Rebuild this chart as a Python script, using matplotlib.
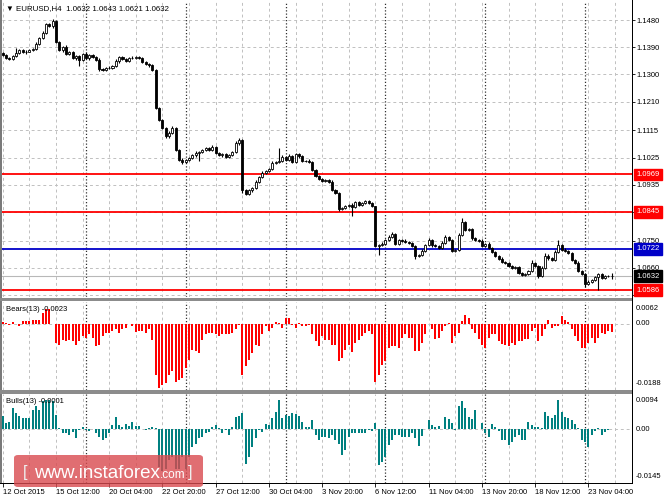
import matplotlib
matplotlib.use("Agg")
import matplotlib.pyplot as plt
import matplotlib.transforms as mtransforms
from matplotlib.patches import FancyBboxPatch, Rectangle

plt.rcParams["font.family"] = ["Liberation Sans", "DejaVu Sans"]

# EURUSD H4 candles, 12 Oct 2015 20:00 .. 24 Nov 2015
OPEN = [
    1.1371, 1.1364, 1.1354, 1.1352, 1.1361, 1.1371, 1.1381, 1.1374, 1.1376, 1.1381,
    1.1384, 1.1401, 1.1420, 1.1437, 1.1467, 1.1460, 1.1477, 1.1407, 1.1381, 1.1391,
    1.1367, 1.1374, 1.1354, 1.1361, 1.1348, 1.1367, 1.1354, 1.1364, 1.1358, 1.1348,
    1.1318, 1.1315, 1.1321, 1.1323, 1.1328, 1.1344, 1.1358, 1.1351, 1.1344, 1.1354,
    1.1356, 1.1358, 1.1354, 1.1341, 1.1334, 1.1331, 1.1315, 1.1189, 1.1149, 1.1123,
    1.1096, 1.1106, 1.1123, 1.1050, 1.1017, 1.1010, 1.1017, 1.1023, 1.1033, 1.1040,
    1.1043, 1.1050, 1.1056, 1.1050, 1.1060, 1.1040, 1.1033, 1.1036, 1.1027, 1.1033,
    1.1043, 1.1073, 1.1083, 1.0917, 1.0904, 1.0917, 1.0924, 1.0944, 1.0960, 1.0974,
    1.0980, 1.0987, 1.1007, 1.1010, 1.1013, 1.1027, 1.1017, 1.1030, 1.1010, 1.1036,
    1.1030, 1.1013, 1.1015, 1.1010, 1.0984, 1.0964, 1.0954, 1.0947, 1.0950, 1.0945,
    1.0917, 1.0907, 1.0854, 1.0858, 1.0864, 1.0868, 1.0861, 1.0878, 1.0868, 1.0874,
    1.0881, 1.0874, 1.0864, 1.0732, 1.0735, 1.0739, 1.0752, 1.0762, 1.0772, 1.0739,
    1.0752, 1.0749, 1.0745, 1.0742, 1.0732, 1.0699, 1.0702, 1.0715, 1.0735, 1.0752,
    1.0735, 1.0732, 1.0725, 1.0742, 1.0762, 1.0752, 1.0715, 1.0719, 1.0768, 1.0811,
    1.0785, 1.0788, 1.0758, 1.0752, 1.0749, 1.0732, 1.0739, 1.0725, 1.0712, 1.0699,
    1.0689, 1.0679, 1.0676, 1.0666, 1.0659, 1.0662, 1.0643, 1.0636, 1.0639, 1.0649,
    1.0676, 1.0666, 1.0633, 1.0659, 1.0699, 1.0692, 1.0686, 1.0712, 1.0735, 1.0719,
    1.0715, 1.0709, 1.0686, 1.0676, 1.0649, 1.0639, 1.0606, 1.0613, 1.0619, 1.0630,
    1.0639, 1.0626, 1.0633, 1.0632,
]
CLOSE = [
    1.1364, 1.1354, 1.1352, 1.1361, 1.1371, 1.1381, 1.1374, 1.1376, 1.1381, 1.1384,
    1.1401, 1.1420, 1.1437, 1.1467, 1.1460, 1.1477, 1.1407, 1.1381, 1.1391, 1.1367,
    1.1374, 1.1354, 1.1361, 1.1348, 1.1367, 1.1354, 1.1364, 1.1358, 1.1348, 1.1318,
    1.1315, 1.1321, 1.1323, 1.1328, 1.1344, 1.1358, 1.1351, 1.1344, 1.1354, 1.1356,
    1.1358, 1.1354, 1.1341, 1.1334, 1.1331, 1.1315, 1.1189, 1.1149, 1.1123, 1.1096,
    1.1106, 1.1123, 1.1050, 1.1017, 1.1010, 1.1017, 1.1023, 1.1033, 1.1040, 1.1043,
    1.1050, 1.1056, 1.1050, 1.1060, 1.1040, 1.1033, 1.1036, 1.1027, 1.1033, 1.1043,
    1.1073, 1.1083, 1.0917, 1.0904, 1.0917, 1.0924, 1.0944, 1.0960, 1.0974, 1.0980,
    1.0987, 1.1007, 1.1010, 1.1013, 1.1027, 1.1017, 1.1030, 1.1010, 1.1036, 1.1030,
    1.1013, 1.1015, 1.1010, 1.0984, 1.0964, 1.0954, 1.0947, 1.0950, 1.0945, 1.0917,
    1.0907, 1.0854, 1.0858, 1.0864, 1.0868, 1.0861, 1.0878, 1.0868, 1.0874, 1.0881,
    1.0874, 1.0864, 1.0732, 1.0735, 1.0739, 1.0752, 1.0762, 1.0772, 1.0739, 1.0752,
    1.0749, 1.0745, 1.0742, 1.0732, 1.0699, 1.0702, 1.0715, 1.0735, 1.0752, 1.0735,
    1.0732, 1.0725, 1.0742, 1.0762, 1.0752, 1.0715, 1.0719, 1.0768, 1.0811, 1.0785,
    1.0788, 1.0758, 1.0752, 1.0749, 1.0732, 1.0739, 1.0725, 1.0712, 1.0699, 1.0689,
    1.0679, 1.0676, 1.0666, 1.0659, 1.0662, 1.0643, 1.0636, 1.0639, 1.0649, 1.0676,
    1.0666, 1.0633, 1.0659, 1.0699, 1.0692, 1.0686, 1.0712, 1.0735, 1.0719, 1.0715,
    1.0709, 1.0686, 1.0676, 1.0649, 1.0639, 1.0606, 1.0613, 1.0619, 1.0630, 1.0639,
    1.0626, 1.0633, 1.0632, 1.0632,
]
# wick lengths beyond the body, in pips
UPPER_WICK = [
    3, 4, 3, 4, 15, 4, 3, 4, 3, 4, 5, 4, 6, 5, 4, 8, 4, 5, 4, 5,
    4, 5, 4, 5, 4, 6, 4, 3, 4, 5, 4, 3, 4, 5, 6, 4, 3, 4, 5, 4,
    4, 3, 4, 5, 4, 5, 2, 4, 5, 3, 6, 5, 3, 4, 5, 4, 3, 4, 5, 4,
    4, 5, 4, 6, 4, 3, 4, 5, 4, 3, 6, 5, 2, 4, 5, 4, 6, 4, 5, 3,
    4, 5, 4, 45, 5, 4, 6, 4, 5, 4, 4, 3, 4, 5, 4, 3, 4, 4, 5, 4,
    4, 3, 4, 5, 4, 6, 4, 3, 5, 4, 4, 5, 2, 4, 5, 4, 6, 5, 4, 3,
    4, 5, 4, 3, 4, 5, 6, 4, 5, 4, 3, 4, 5, 6, 4, 3, 4, 8, 12, 5,
    4, 5, 4, 3, 6, 4, 5, 4, 3, 4, 5, 4, 3, 4, 5, 4, 3, 4, 5, 10,
    4, 3, 6, 10, 5, 4, 6, 18, 4, 5, 4, 3, 4, 5, 4, 3, 6, 5, 4, 5,
    4, 3, 4, 11,
]
LOWER_WICK = [
    2, 4, 3, 5, 4, 3, 4, 5, 3, 4, 3, 5, 4, 3, 4, 5, 3, 4, 5, 4,
    3, 4, 5, 20, 4, 3, 5, 4, 3, 8, 4, 5, 3, 4, 4, 5, 3, 4, 3, 4,
    5, 4, 3, 4, 5, 4, 5, 3, 4, 6, 5, 4, 4, 3, 5, 4, 3, 4, 5, 25,
    4, 3, 5, 4, 3, 4, 5, 3, 4, 4, 3, 5, 8, 4, 3, 5, 4, 3, 4, 5,
    3, 4, 5, 4, 3, 4, 5, 4, 3, 5, 4, 4, 3, 4, 5, 4, 3, 4, 5, 4,
    3, 5, 4, 3, 4, 30, 4, 3, 5, 4, 3, 4, 5, 30, 4, 3, 5, 4, 3, 4,
    5, 4, 3, 4, 10, 5, 4, 3, 4, 5, 4, 3, 4, 5, 4, 3, 4, 5, 4, 3,
    4, 5, 4, 3, 4, 5, 4, 3, 4, 5, 4, 3, 5, 4, 3, 4, 5, 4, 3, 4,
    5, 8, 4, 3, 5, 4, 3, 4, 5, 4, 3, 4, 5, 4, 3, 10, 4, 3, 4, 44,
    3, 4, 4, 11,
]
BEARS = [
    0.0005, 0.0003, -0.0002, 0.0005, 0.0000, -0.0007, 0.0008, 0.0008, 0.0008, 0.0010,
    0.0010, 0.0012, 0.0031, 0.0041, 0.0041, 0.0000, -0.0054, -0.0059, -0.0045, -0.0050,
    -0.0047, -0.0050, -0.0059, -0.0050, -0.0035, -0.0040, -0.0030, -0.0040, -0.0064, -0.0059,
    -0.0035, -0.0026, -0.0026, -0.0021, -0.0016, -0.0026, -0.0016, -0.0011, 0.0000, -0.0007,
    -0.0024, -0.0021, -0.0021, -0.0026, -0.0016, -0.0045, -0.0145, -0.0183, -0.0173, -0.0169,
    -0.0145, -0.0135, -0.0164, -0.0159, -0.0154, -0.0126, -0.0102, -0.0073, -0.0078, -0.0083,
    -0.0045, -0.0030, -0.0026, -0.0026, -0.0030, -0.0035, -0.0030, -0.0030, -0.0029, -0.0026,
    -0.0016, -0.0002, -0.0145, -0.0121, -0.0102, -0.0083, -0.0059, -0.0064, -0.0030, -0.0005,
    -0.0021, -0.0011, 0.0005, 0.0003, -0.0011, 0.0017, 0.0017, -0.0002, -0.0011, 0.0003,
    -0.0007, -0.0007, -0.0002, -0.0030, -0.0050, -0.0064, -0.0035, -0.0045, -0.0045, -0.0059,
    -0.0059, -0.0107, -0.0097, -0.0073, -0.0059, -0.0081, -0.0054, -0.0045, -0.0035, -0.0026,
    -0.0021, -0.0030, -0.0164, -0.0145, -0.0116, -0.0107, -0.0069, -0.0064, -0.0064, -0.0069,
    -0.0040, -0.0030, -0.0040, -0.0040, -0.0078, -0.0078, -0.0054, -0.0030, 0.0000, -0.0016,
    -0.0043, -0.0040, -0.0021, -0.0007, 0.0001, -0.0054, -0.0035, -0.0026, 0.0008, 0.0024,
    0.0017, -0.0014, -0.0026, -0.0043, -0.0059, -0.0069, -0.0040, -0.0030, -0.0030, -0.0050,
    -0.0056, -0.0059, -0.0064, -0.0054, -0.0059, -0.0050, -0.0050, -0.0043, -0.0043, -0.0021,
    -0.0011, -0.0050, -0.0035, -0.0016, 0.0012, -0.0011, -0.0007, -0.0005, 0.0022, 0.0012,
    0.0005, -0.0016, -0.0035, -0.0050, -0.0069, -0.0069, -0.0054, -0.0040, -0.0054, -0.0040,
    -0.0026, -0.0030, -0.0021, -0.0023,
]
BULLS = [
    0.0034, 0.0015, 0.0020, 0.0056, 0.0043, 0.0034, 0.0029, 0.0029, 0.0029, 0.0052,
    0.0061, 0.0052, 0.0074, 0.0079, 0.0079, 0.0074, 0.0038, 0.0002, -0.0012, -0.0012,
    -0.0016, -0.0007, -0.0025, -0.0003, 0.0006, -0.0003, -0.0005, -0.0001, -0.0012, -0.0021,
    -0.0030, -0.0025, -0.0012, 0.0011, 0.0032, 0.0011, 0.0006, 0.0014, 0.0008, 0.0020,
    0.0008, 0.0008, -0.0001, -0.0003, 0.0002, 0.0005, 0.0002, -0.0102, -0.0112, -0.0107,
    -0.0084, -0.0075, -0.0107, -0.0107, -0.0075, -0.0107, -0.0075, -0.0048, -0.0039, -0.0025,
    -0.0021, -0.0012, -0.0007, 0.0006, 0.0011, 0.0002, -0.0012, -0.0003, -0.0016, 0.0006,
    0.0032, 0.0034, 0.0043, -0.0093, -0.0075, -0.0048, -0.0025, -0.0003, -0.0007, 0.0013,
    0.0011, 0.0029, 0.0047, 0.0079, 0.0029, 0.0038, 0.0035, 0.0044, 0.0040, 0.0035,
    0.0020, 0.0006, 0.0006, 0.0024, -0.0016, -0.0030, -0.0021, -0.0021, -0.0025, -0.0016,
    -0.0030, -0.0039, -0.0071, -0.0057, -0.0021, -0.0010, -0.0010, -0.0010, -0.0010, -0.0010,
    -0.0003, -0.0005, 0.0015, -0.0098, -0.0089, -0.0074, -0.0044, -0.0030, -0.0016, -0.0016,
    -0.0021, -0.0021, -0.0021, -0.0012, -0.0025, -0.0046, -0.0018, -0.0001, 0.0024, 0.0011,
    0.0005, 0.0008, -0.0001, 0.0032, 0.0026, 0.0015, -0.0003, 0.0061, 0.0074, 0.0056,
    0.0032, 0.0026, 0.0050, -0.0001, 0.0017, -0.0012, -0.0021, 0.0014, 0.0006, -0.0005,
    -0.0030, -0.0030, -0.0042, -0.0034, -0.0021, -0.0016, -0.0030, -0.0030, 0.0020, 0.0010,
    0.0006, 0.0005, 0.0002, 0.0047, 0.0035, 0.0029, 0.0038, 0.0077, 0.0045, 0.0032,
    0.0029, 0.0024, 0.0014, 0.0002, -0.0030, -0.0034, -0.0048, -0.0016, -0.0005, 0.0002,
    -0.0016, -0.0007, -0.0003, -0.0001,
]

PIP = 0.0001
# x-axis labels every 16 bars (bar index -> text)
XLABEL_BARS = [0, 16, 32, 48, 64, 80, 96, 112, 128, 144, 160, 176]
XLABELS = ["12 Oct 2015", "15 Oct 12:00", "20 Oct 04:00", "22 Oct 20:00",
           "27 Oct 12:00", "30 Oct 04:00", "3 Nov 20:00", "6 Nov 12:00",
           "11 Nov 04:00", "13 Nov 20:00", "18 Nov 12:00", "23 Nov 04:00"]
WEEK_STARTS = [25, 55, 85, 115, 145, 175]
PRICE_TICKS = [1.1480, 1.1390, 1.1300, 1.1210, 1.1115, 1.1025, 1.0935,
               1.0845, 1.0750, 1.0660, 1.0570]
RED_LEVELS = [1.0969, 1.0845, 1.0586]
BLUE_LEVELS = [1.0722]
LAST_PRICE = 1.0632

FS = 5.5
W, H = 664, 498
fig = plt.figure(figsize=(W / 100, H / 100), dpi=100)
fig.patch.set_facecolor("white")


def px_axes(left, top, right, bottom):
    return fig.add_axes([left / W, 1 - bottom / H, (right - left) / W, (bottom - top) / H])


ax_p = px_axes(2, 2, 632, 297)
ax_b = px_axes(2, 302, 632, 390)
ax_u = px_axes(2, 394, 632, 483)

n = len(CLOSE)
xs = list(range(n))
GRID = "#c0c0c0"

for ax in (ax_p, ax_b, ax_u):
    ax.set_xlim(-0.2, 189.1)
    for s in ax.spines.values():
        s.set_visible(False)
    ax.set_xticks([])
    ax.tick_params(axis="y", which="both", length=0)
    for xg in range(0, 190, 8):
        ax.axvline(xg, color=GRID, lw=0.7, ls=(0, (3, 3)), zorder=0)
    for xs_ in WEEK_STARTS:
        ax.axvline(xs_, color="#303030", lw=0.9, ls=(0, (1, 1.6)), zorder=0.5)

# ---- price panel
ax_p.set_ylim(1.0563, 1.1540)
ax_p.yaxis.tick_right()
ax_p.set_yticks(PRICE_TICKS)
ax_p.set_yticklabels([f"{v:.4f}" for v in PRICE_TICKS], fontsize=FS)
ax_p.tick_params(axis="y", length=2, width=0.6, pad=1.2, color="black")
for v in PRICE_TICKS:
    ax_p.axhline(v, color=GRID, lw=0.7, ls=(0, (3, 3)), zorder=0)

ax_p.axhline(LAST_PRICE, color="#b8b8b8", lw=0.8, zorder=1)
for v in RED_LEVELS:
    ax_p.axhline(v, color="#ff0000", lw=1.3, zorder=1)
for v in BLUE_LEVELS:
    ax_p.axhline(v, color="#0000c8", lw=1.3, zorder=1)

highs = [max(o, c) + u * PIP for o, c, u in zip(OPEN, CLOSE, UPPER_WICK)]
lows = [min(o, c) - d * PIP for o, c, d in zip(OPEN, CLOSE, LOWER_WICK)]
ax_p.vlines(xs, lows, highs, color="black", lw=0.8, zorder=2)
bottoms = [min(o, c) for o, c in zip(OPEN, CLOSE)]
heights = [max(abs(c - o), 0.00004) for o, c in zip(OPEN, CLOSE)]
faces = ["white" if c >= o else "black" for o, c in zip(OPEN, CLOSE)]
ax_p.bar(xs, heights, bottom=bottoms, width=0.62, color=faces,
         edgecolor="black", linewidth=0.6, zorder=3)

ax_p.text(0.006, 0.988, "\u25bc EURUSD,H4  1.0632 1.0643 1.0621 1.0632",
          transform=ax_p.transAxes, fontsize=FS + 0.2, va="top", ha="left")

tr = mtransforms.blended_transform_factory(ax_p.transAxes, ax_p.transData)
for v, col in [(1.0969, "#ff0000"), (1.0845, "#ff0000"), (1.0722, "#0000c8"),
               (LAST_PRICE, "black"), (1.0586, "#ff0000")]:
    ax_p.text(1.0065, v, f"{v:.4f}", transform=tr, fontsize=FS, color="white",
              va="center", ha="left", clip_on=False, zorder=5,
              bbox=dict(boxstyle="square,pad=0.3", fc=col, ec=col))

# ---- indicator panels
def indicator(ax, vals, color, lo, hi, title):
    ax.set_ylim(lo, hi)
    ax.set_yticks([])
    ax.axhline(0, color=GRID, lw=0.7, ls=(0, (3, 3)), zorder=0)
    ax.bar(xs, vals, width=0.6, color=color, lw=0, zorder=2)
    ax.text(0.006, 0.95, title, transform=ax.transAxes, fontsize=FS, va="top", ha="left", zorder=4)
    trb = mtransforms.blended_transform_factory(ax.transAxes, ax.transAxes)
    zero_frac = (0 - lo) / (hi - lo)
    ax.text(1.0065, 0.97, f"{hi:.4f}", transform=trb, fontsize=FS, va="top", ha="left", clip_on=False)
    ax.text(1.0065, zero_frac, "0.00", transform=trb, fontsize=FS, va="center", ha="left", clip_on=False)
    ax.text(1.0065, 0.03, f"{lo:.4f}", transform=trb, fontsize=FS, va="bottom", ha="left", clip_on=False)


indicator(ax_b, BEARS, "#ff0000", -0.0188, 0.0062, "Bears(13) -0.0023")
indicator(ax_u, BULLS, "#008080", -0.0145, 0.0094, "Bulls(13) -0.0001")

ax_u.set_xticks(XLABEL_BARS)
ax_u.set_xticklabels(XLABELS, fontsize=FS)
ax_u.tick_params(axis="x", length=3, width=0.6, pad=1.5)
for lab in ax_u.get_xticklabels():
    lab.set_ha("left")

# ---- frame and panel splitters
def fig_rect(left, top, right, bottom, color, z=3):
    fig.add_artist(Rectangle((left / W, 1 - bottom / H), (right - left) / W, (bottom - top) / H,
                             transform=fig.transFigure, fc=color, ec="none", zorder=z))


fig_rect(0, 0, 1.5, 483, "#7a7a7a")
fig_rect(0, 297.5, 632, 301, "#8c8c8c")
fig_rect(0, 390, 632, 393.5, "#8c8c8c")
fig_rect(631.5, 0, 632.5, 484, "black")
fig_rect(0, 483, 632.5, 484, "black")

# ---- watermark
fig.add_artist(FancyBboxPatch((14 / W, 1 - 487 / H), 189 / W, 32 / H,
                              boxstyle="round,pad=0,rounding_size=0.006",
                              transform=fig.transFigure, fc="#d94a4f", ec="none",
                              alpha=0.8, zorder=6))
base = 1 - 478 / H
fig.text(23 / W, base + 1 / H, "[", fontsize=12, color="#eeeeee", va="baseline", ha="left",
         zorder=7, fontweight="light")
fig.text(160 / W, base, "www.instaforex", fontsize=13.5, color="white", va="baseline",
         ha="right", zorder=7)
fig.text(160 / W, base, ".com", fontsize=8.5, color="white", va="baseline", ha="left", zorder=7)
fig.text(188 / W, base + 1 / H, "]", fontsize=12, color="#eeeeee", va="baseline", ha="left",
         zorder=7, fontweight="light")

fig.savefig("out.png", dpi=100)
